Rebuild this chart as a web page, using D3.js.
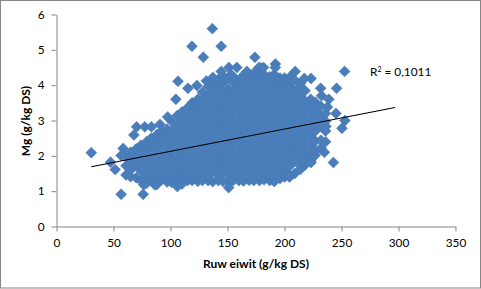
<!DOCTYPE html>
<html>
<head>
<meta charset="utf-8">
<script src="https://cdnjs.cloudflare.com/ajax/libs/d3/7.8.5/d3.min.js"></script>
<style>
  html, body { margin: 0; padding: 0; background: #fff; }
  svg { display: block; }
  text { font-family: Lato, "Open Sans", sans-serif; fill: #000; }
</style>
</head>
<body>
<svg id="chart" width="481" height="289"></svg>
<script>
var xTicks = [0, 50, 100, 150, 200, 250, 300, 350];
var yTicks = [0, 1, 2, 3, 4, 5, 6];

// main cloud
var cloudX = [61, 65, 70, 74, 79, 83, 88, 92, 97, 101, 106, 110, 115, 119, 124, 128, 133, 137, 142, 146, 151, 155, 160, 164, 169, 173, 178, 182, 187, 191, 196, 200, 205, 209, 214, 218, 223, 227, 232, 236];
var cloudY = [
  [1.46, 1.72, 1.98],
  [1.41, 1.6, 1.86, 2.1],
  [1.38, 1.72, 2.0, 2.2],
  [1.3, 1.58, 1.86, 2.14, 2.3],
  [1.22, 1.44, 1.72, 2.0, 2.28, 2.4],
  [1.3, 1.58, 1.86, 2.14, 2.42, 2.5],
  [1.19, 1.44, 1.72, 2.0, 2.28, 2.56, 2.6],
  [1.32, 1.58, 1.86, 2.14, 2.42, 2.7],
  [1.26, 1.44, 1.72, 2.0, 2.28, 2.56, 2.76],
  [1.25, 1.4, 1.58, 1.86, 2.14, 2.42, 2.7, 2.98],
  [1.13, 1.28, 1.44, 1.72, 2.0, 2.28, 2.56, 2.84, 3.14],
  [1.2, 1.4, 1.58, 1.86, 2.14, 2.42, 2.7, 2.98, 3.24],
  [1.3, 1.44, 1.72, 2.0, 2.28, 2.56, 2.84, 3.12, 3.36],
  [1.3, 1.58, 1.86, 2.14, 2.42, 2.7, 2.98, 3.26, 3.5],
  [1.28, 1.44, 1.72, 2.0, 2.28, 2.56, 2.84, 3.12, 3.4, 3.6],
  [1.3, 1.58, 1.86, 2.14, 2.42, 2.7, 2.98, 3.26, 3.54, 3.8],
  [1.3, 1.44, 1.72, 2.0, 2.28, 2.56, 2.84, 3.12, 3.4, 3.68, 3.96],
  [1.27, 1.58, 1.86, 2.14, 2.42, 2.7, 2.98, 3.26, 3.54, 3.82, 4.06],
  [1.3, 1.44, 1.72, 2.0, 2.28, 2.56, 2.84, 3.12, 3.4, 3.68, 3.96, 4.16],
  [1.28, 1.58, 1.86, 2.14, 2.42, 2.7, 2.98, 3.26, 3.54, 3.82, 4.06, 4.24],
  [1.25, 1.44, 1.72, 2.0, 2.28, 2.56, 2.84, 3.12, 3.4, 3.68, 3.9, 4.2],
  [1.3, 1.58, 1.86, 2.14, 2.42, 2.7, 2.98, 3.26, 3.54, 3.82, 4.1, 4.24],
  [1.3, 1.44, 1.72, 2.0, 2.28, 2.56, 2.84, 3.12, 3.4, 3.68, 3.96, 4.12],
  [1.29, 1.58, 1.86, 2.14, 2.42, 2.7, 2.98, 3.26, 3.54, 3.82, 4.1, 4.28],
  [1.31, 1.44, 1.72, 2.0, 2.28, 2.56, 2.84, 3.12, 3.4, 3.68, 3.96, 4.24],
  [1.3, 1.58, 1.86, 2.14, 2.42, 2.7, 2.98, 3.26, 3.54, 3.82, 4.1, 4.34],
  [1.3, 1.44, 1.72, 2.0, 2.28, 2.56, 2.84, 3.12, 3.4, 3.68, 3.96, 4.24, 4.36],
  [1.32, 1.58, 1.86, 2.14, 2.42, 2.7, 2.98, 3.26, 3.54, 3.82, 4.1, 4.3],
  [1.3, 1.44, 1.72, 2.0, 2.28, 2.56, 2.84, 3.12, 3.4, 3.68, 3.96, 4.24],
  [1.28, 1.58, 1.86, 2.14, 2.42, 2.7, 2.98, 3.26, 3.54, 3.82, 4.1, 4.3],
  [1.36, 1.44, 1.72, 2.0, 2.28, 2.56, 2.84, 3.12, 3.4, 3.68, 3.96, 4.2],
  [1.4, 1.58, 1.86, 2.14, 2.42, 2.7, 2.98, 3.26, 3.54, 3.82, 4.1, 4.2],
  [1.44, 1.72, 2.0, 2.28, 2.56, 2.84, 3.12, 3.4, 3.68, 3.96, 4.24],
  [1.5, 1.86, 2.14, 2.42, 2.7, 2.98, 3.26, 3.54, 3.82, 4.14],
  [1.62, 1.72, 2.0, 2.28, 2.56, 2.84, 3.12, 3.4, 3.68, 3.96, 4.05],
  [1.74, 1.86, 2.14, 2.42, 2.7, 2.98, 3.26, 3.54, 3.84],
  [1.86, 2.0, 2.28, 2.56, 2.84, 3.12, 3.4, 3.6],
  [2.02, 2.14, 2.42, 2.7, 2.98, 3.26, 3.52],
  [2.22, 2.44, 2.84, 3.12, 3.4],
  [2.4, 2.7, 2.98, 3.2]
];

// loose points around the cloud
var outlierX = [136.7, 118.8, 144.5, 128.8, 174, 106.6, 104.7, 115.3, 123.2, 97.5, 90.8, 70.3, 67.9, 77.4, 83.3, 30.5, 58.5, 56.7, 47.4, 51.5, 56.7, 76, 76.5, 86.2, 151, 191.2, 204.3, 223.3, 242.9, 235, 252.7, 245.7, 231.7, 238.9, 237.7, 245.1, 253, 250.4, 236.4, 232.5, 223.3, 217.4, 209.4, 192, 192, 179.5, 167, 151.2, 158.2, 177.5, 181.6, 144.5, 137.2, 131.4, 153];
var outlierY = [5.6, 5.1, 5.1, 4.79, 4.79, 4.11, 3.6, 3.91, 3.99, 3.1, 2.89, 2.82, 2.59, 2.82, 2.82, 2.09, 2.21, 2.01, 1.82, 1.61, 0.91, 0.91, 1.18, 1.18, 1.1, 1.28, 1.4, 1.81, 1.81, 2.1, 4.39, 3.91, 3.91, 3.6, 3.38, 3.2, 3.0, 2.78, 2.84, 3.7, 4.19, 4.19, 4.39, 4.6, 4.5, 4.49, 4.39, 4.5, 4.5, 4.5, 4.5, 4.39, 4.22, 4.12, 4.3];

var trendX = [30.5, 297];
var trendY = [1.69, 3.37];

var r2Label = ["R", "2", " = 0,1011"];
var xTitle = "Ruw eiwit (g/kg DS)";
var yTitle = "Mg (g/kg DS)";

var blue = "#4a7ebb";
var grey = "#868686";

var svg = d3.select("#chart");

// outer chart border
svg.append("rect")
  .attr("x", 0.5).attr("y", 0.5)
  .attr("width", 480).attr("height", 287.5)
  .attr("fill", "#fff")
  .attr("stroke", grey);

var x = d3.scaleLinear().domain([0, 350]).range([56.5, 455.5]);
var y = d3.scaleLinear().domain([0, 6]).range([226.5, 14.5]);

var gx = svg.append("g")
  .attr("transform", "translate(0,226.5)")
  .call(d3.axisBottom(x).tickValues(xTicks).tickFormat(d3.format("d")).tickSize(5).tickPadding(7).tickSizeOuter(0));
var gy = svg.append("g")
  .attr("transform", "translate(56.5,0)")
  .call(d3.axisLeft(y).tickValues(yTicks).tickFormat(d3.format("d")).tickSize(5).tickPadding(7).tickSizeOuter(0));

[gx, gy].forEach(function(g) {
  g.selectAll("path, line").attr("stroke", grey);
  g.selectAll("text").attr("font-family", "Lato").attr("font-size", 11.8);
});

var points = [];
cloudX.forEach(function(px, i) {
  cloudY[i].forEach(function(py) { points.push([px, py]); });
});
outlierX.forEach(function(px, i) { points.push([px, outlierY[i]]); });

var diamond = d3.symbol().type(d3.symbolSquare).size(60);

svg.append("g").selectAll("path")
  .data(points)
  .enter()
  .append("path")
  .attr("d", diamond)
  .attr("transform", function(d) { return "translate(" + x(d[0]) + "," + y(d[1]) + ") rotate(45)"; })
  .attr("fill", blue)
  .attr("stroke", "#4577b3")
  .attr("stroke-width", 0.5);

// trend line
svg.append("line")
  .attr("x1", x(trendX[0])).attr("y1", y(trendY[0]))
  .attr("x2", x(trendX[1])).attr("y2", y(trendY[1]))
  .attr("stroke", "#000")
  .attr("stroke-width", 1.1);

var r2 = svg.append("text")
  .attr("x", 370).attr("y", 76)
  .attr("font-size", 11.8);
r2.append("tspan").text(r2Label[0]);
r2.append("tspan").attr("font-size", 7).attr("dy", -4).text(r2Label[1]);
r2.append("tspan").attr("dy", 4).text(r2Label[2]);

svg.append("text")
  .attr("x", 256).attr("y", 268)
  .attr("text-anchor", "middle")
  .attr("font-size", 12)
  .attr("font-weight", "bold")
  .text(xTitle);

svg.append("text")
  .attr("transform", "translate(30,121) rotate(-90)")
  .attr("text-anchor", "middle")
  .attr("font-size", 12)
  .attr("font-weight", "bold")
  .text(yTitle);
</script>
</body>
</html>
